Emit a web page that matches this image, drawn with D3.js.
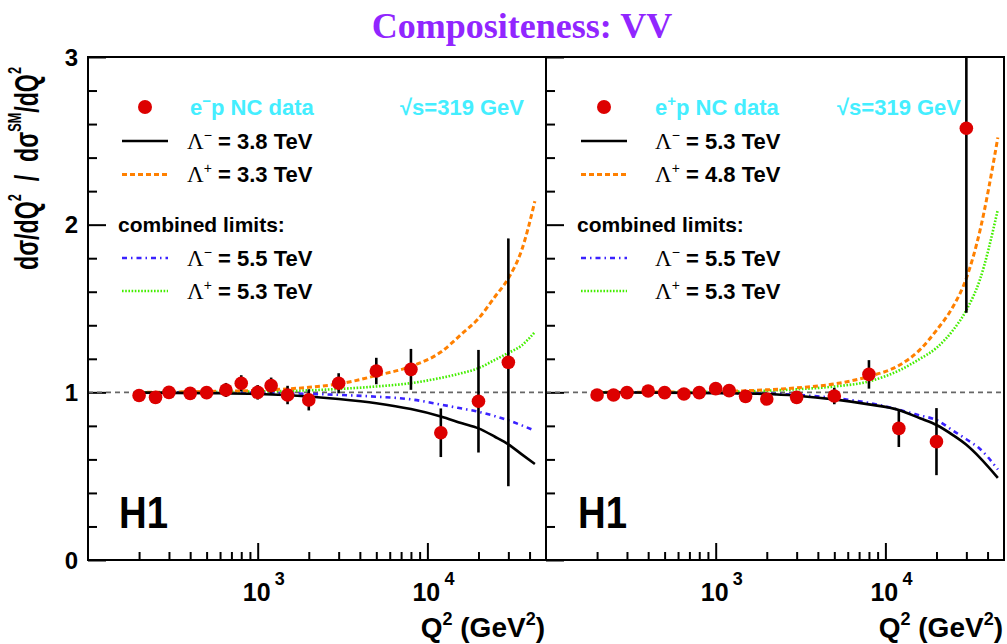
<!DOCTYPE html>
<html><head><meta charset="utf-8">
<script src="https://cdn.jsdelivr.net/npm/d3@7"></script>
<style>body{margin:0;background:#fff}svg{display:block}</style>
</head><body>
<svg id="c" width="1007" height="644"></svg>
<script>
// ---------- data ----------
const q2Bins = [200,250,300,400,500,650,800,1000,1200,1500,2000,3000,5000,8000,12000,20000,30000];
const emRatio = [0.981,0.970,1.000,0.994,0.998,1.014,1.054,1.000,1.040,0.984,0.955,1.054,1.127,1.137,0.759,0.947,1.179];
const emErr   = [0.025,0.025,0.035,0.025,0.038,0.042,0.048,0.043,0.048,0.055,0.063,0.060,0.079,0.122,0.145,0.306,0.739];
const epRatio = [0.984,0.984,0.998,1.008,0.998,0.990,0.998,1.022,1.010,0.976,0.960,0.970,0.978,1.107,0.785,0.706,2.575];
const epErr   = [0.020,0.020,0.020,0.020,0.020,0.020,0.020,0.020,0.020,0.025,0.030,0.030,0.049,0.085,0.111,0.200,1.100];

const curveQ2Left  = [200,500,1000,2000,3000,5000,8000,12000,16000,20000,25000,30000,36000,43000];
const emLamMinus   = [0.998,0.995,0.990,0.975,0.960,0.935,0.900,0.856,0.815,0.785,0.735,0.690,0.630,0.573];
const emLamPlus    = [1.000,1.005,1.012,1.030,1.050,1.100,1.155,1.240,1.350,1.440,1.570,1.680,1.850,2.140];
const comLamMinusL = [1.000,0.999,0.997,0.991,0.985,0.974,0.958,0.927,0.903,0.884,0.858,0.833,0.803,0.771];
const comLamPlusL  = [1.000,1.002,1.005,1.012,1.020,1.035,1.055,1.086,1.115,1.144,1.194,1.235,1.280,1.360];

const curveQ2Right = [200,500,1000,2000,3000,5000,8000,12000,16000,20000,25000,30000,36000,46000];
const epLamMinus   = [0.999,0.998,0.995,0.990,0.980,0.958,0.928,0.895,0.845,0.805,0.745,0.687,0.611,0.490];
const epLamPlus    = [1.000,1.002,1.005,1.015,1.027,1.050,1.095,1.160,1.255,1.370,1.510,1.680,1.960,2.520];
const comLamMinusR = [1.000,0.999,0.997,0.992,0.985,0.966,0.937,0.896,0.862,0.835,0.772,0.720,0.664,0.540];
const comLamPlusR  = [1.000,1.001,1.003,1.010,1.018,1.035,1.065,1.130,1.200,1.265,1.370,1.490,1.670,2.090];

const yTickValues = [0,1,2,3];
const yTickLabels = ["0","1","2","3"];
const xMajorTicks = [1000,10000];
const xMajorExp   = ["3","4"];
const xMinorTicks = [200,300,400,500,600,700,800,900,2000,3000,4000,5000,6000,7000,8000,9000,20000,30000,40000];

// ---------- layout ----------
const svg = d3.select("#c");
const FONT = "'Liberation Sans', Arial, Helvetica, sans-serif";
const SERIF = "'Liberation Serif', 'Times New Roman', serif";
const yTop = 57, yBot = 560, panelW = 458;
const y = d3.scaleLinear().domain([0,3]).range([yBot, yTop]);

const C = {red:"#dd0000", cyan:"#44eeff", orange:"#ff8000", blue:"#3a22ff", green:"#44ee00", black:"#000"};

const panels = [
  {x0:88, q2:q2Bins, r:emRatio, e:emErr, cq:curveQ2Left,
   curves:[emLamMinus, emLamPlus, comLamMinusL, comLamPlusL],
   lepton:"−", lam1:"3.8", lam2:"3.3", lam3:"5.5", lam4:"5.3", labels:true},
  {x0:546, q2:q2Bins, r:epRatio, e:epErr, cq:curveQ2Right,
   curves:[epLamMinus, epLamPlus, comLamMinusR, comLamPlusR],
   lepton:"+", lam1:"5.3", lam2:"4.8", lam3:"5.5", lam4:"5.3", labels:false}
];

const styles = [
  {color:C.black, dash:null, w:2.6},
  {color:C.orange, dash:"5,3", w:3},
  {color:C.blue, dash:"5,4,1.5,4", w:2.6},
  {color:C.green, dash:"1.6,1.6", w:2.6}
];

// title
svg.append("text").attr("x",522).attr("y",38).attr("text-anchor","middle")
  .attr("font-family",SERIF).attr("font-weight","bold").attr("font-size",36)
  .attr("fill","#9126ff").text("Compositeness: VV");

// y-axis title
const yt = svg.append("text").attr("transform","translate(38,270) rotate(-90)")
  .attr("font-family",FONT).attr("font-weight","bold").attr("font-size",33).attr("fill","#000")
  .attr("textLength",203).attr("lengthAdjust","spacingAndGlyphs");
yt.append("tspan").text("dσ/dQ");
yt.append("tspan").attr("dy",-17).attr("font-size",18).text("2");
yt.append("tspan").attr("dy",17).text("\u00a0\u00a0/\u00a0\u00a0dσ");
yt.append("tspan").attr("dy",-17).attr("font-size",18).text("SM");
yt.append("tspan").attr("dy",17).text("/dQ");
yt.append("tspan").attr("dy",-17).attr("font-size",18).text("2");

panels.forEach((p,pi) => {
  const x = d3.scaleLog().domain([100,50000]).range([p.x0, p.x0+panelW]);
  const g = svg.append("g");
  const clipId = "clip"+pi;
  svg.append("clipPath").attr("id",clipId).append("rect")
    .attr("x",p.x0).attr("y",yTop).attr("width",panelW).attr("height",yBot-yTop);

  // x axis ticks
  const xa = g.append("g").attr("transform",`translate(0,${yBot})`);
  xa.append("g").call(d3.axisBottom(x).tickValues(xMajorTicks).tickSize(-17).tickFormat(""))
    .call(s=>{s.select(".domain").remove(); s.selectAll("line").attr("stroke-width",2);});
  xa.append("g").call(d3.axisBottom(x).tickValues(xMinorTicks).tickSize(-8).tickFormat(""))
    .call(s=>{s.select(".domain").remove(); s.selectAll("line").attr("stroke-width",2);});
  xMajorTicks.forEach((v,i) => {
    g.append("text").attr("x",x(v)-1).attr("y",601).attr("text-anchor","middle")
      .attr("font-family",FONT).attr("font-weight","bold").attr("font-size",25).text("10");
    g.append("text").attr("x",x(v)+17).attr("y",585)
      .attr("font-family",FONT).attr("font-weight","bold").attr("font-size",18).text(xMajorExp[i]);
  });
  // x title
  const xt = g.append("text").attr("x",p.x0+panelW-1).attr("y",637).attr("text-anchor","end")
    .attr("font-family",FONT).attr("font-weight","bold").attr("font-size",28);
  xt.append("tspan").text("Q");
  xt.append("tspan").attr("dy",-12).attr("font-size",18).text("2");
  xt.append("tspan").attr("dy",12).text(" (GeV");
  xt.append("tspan").attr("dy",-12).attr("font-size",18).text("2");
  xt.append("tspan").attr("dy",12).text(")");

  // y axis ticks
  const ya = g.append("g").attr("transform",`translate(${p.x0},0)`);
  ya.append("g").call(d3.axisLeft(y).tickValues(yTickValues).tickSize(-18).tickFormat(""))
    .call(s=>{s.select(".domain").remove(); s.selectAll("line").attr("stroke-width",2);});
  const yMinor = d3.range(0,3.01,0.2).filter(v=>Math.abs(v-Math.round(v))>1e-6);
  ya.append("g").call(d3.axisLeft(y).tickValues(yMinor).tickSize(-9).tickFormat(""))
    .call(s=>{s.select(".domain").remove(); s.selectAll("line").attr("stroke-width",2);});
  if (p.labels) {
    yTickValues.forEach((v,i) => {
      g.append("text").attr("x",p.x0-10).attr("y",y(v)+8.5).attr("text-anchor","end")
        .attr("font-family",FONT).attr("font-weight","bold").attr("font-size",24).text(yTickLabels[i]);
    });
  }

  // reference line at 1
  g.append("line").attr("x1",p.x0).attr("x2",p.x0+panelW).attr("y1",y(1)).attr("y2",y(1))
    .attr("stroke","#666").attr("stroke-width",1.6).attr("stroke-dasharray","5,4");

  const plot = g.append("g").attr("clip-path",`url(#${clipId})`);
  // curves
  const line = d3.line().x(d=>x(d[0])).y(d=>y(d[1])).curve(d3.curveMonotoneX);
  [3,2,1,0].forEach(ci => {
    const st = styles[ci];
    plot.append("path").datum(p.cq.map((q,i)=>[q,p.curves[ci][i]]))
      .attr("d",line).attr("fill","none").attr("stroke",st.color)
      .attr("stroke-width",st.w).attr("stroke-dasharray",st.dash);
  });
  // error bars + points
  p.q2.forEach((q,i) => {
    plot.append("line").attr("x1",x(q)).attr("x2",x(q))
      .attr("y1",y(p.r[i]-p.e[i])).attr("y2",y(p.r[i]+p.e[i]))
      .attr("stroke","#000").attr("stroke-width",2.6);
  });
  p.q2.forEach((q,i) => {
    plot.append("circle").attr("cx",x(q)).attr("cy",y(p.r[i])).attr("r",6.8).attr("fill",C.red);
  });

  // frame
  g.append("rect").attr("x",p.x0).attr("y",yTop).attr("width",panelW).attr("height",yBot-yTop)
    .attr("fill","none").attr("stroke","#000").attr("stroke-width",2);

  // legend
  const lx = p.x0;
  const L = pi===0 ? {dot:57, txt:102, sq:312, l1:34, l2:80, tl:99, comb:30}
                   : {dot:58, txt:109, sq:291, l1:35, l2:81, tl:109, comb:31};
  g.append("circle").attr("cx",lx+L.dot).attr("cy",107).attr("r",7).attr("fill",C.red);
  const t0 = g.append("text").attr("x",lx+L.txt).attr("y",115).attr("font-family",FONT)
    .attr("font-weight","bold").attr("font-size",22).attr("fill",C.cyan);
  t0.append("tspan").text("e");
  t0.append("tspan").attr("dy",-9).attr("font-size",15).text(p.lepton);
  t0.append("tspan").attr("dy",9).text("p NC data");
  g.append("text").attr("x",lx+L.sq).attr("y",115).attr("font-family",FONT)
    .attr("font-weight","bold").attr("font-size",22).attr("fill",C.cyan).text("√s=319 GeV");

  const entries = [
    {yl:141, yb:148.5, sign:"−", val:p.lam1, st:styles[0]},
    {yl:174.5, yb:182, sign:"+", val:p.lam2, st:styles[1]},
    {yl:258, yb:265.5, sign:"−", val:p.lam3, st:styles[2]},
    {yl:291, yb:298.5, sign:"+", val:p.lam4, st:styles[3]}
  ];
  entries.forEach(en => {
    g.append("line").attr("x1",lx+L.l1).attr("x2",lx+L.l2).attr("y1",en.yl).attr("y2",en.yl)
      .attr("stroke",en.st.color).attr("stroke-width",en.st.w).attr("stroke-dasharray",en.st.dash);
    const t = g.append("text").attr("x",lx+L.tl).attr("y",en.yb).attr("font-family",FONT)
      .attr("font-weight","bold").attr("font-size",22).attr("fill","#000");
    t.append("tspan").attr("font-family",SERIF).attr("font-weight","normal").attr("font-size",23).text("Λ");
    t.append("tspan").attr("dy",-9).attr("font-size",14).attr("font-weight","normal").text(en.sign);
    t.append("tspan").attr("dy",9).text(" = " + en.val + " TeV");
  });
  g.append("text").attr("x",lx+L.comb).attr("y",232).attr("font-family",FONT)
    .attr("font-weight","bold").attr("font-size",21).text("combined limits:");

  // H1
  g.append("text").attr("x",lx+(pi===0?31:32)).attr("y",528).attr("font-family",FONT)
    .attr("font-weight","bold").attr("font-size",44).attr("textLength",49)
    .attr("lengthAdjust","spacingAndGlyphs").text("H1");
});
</script>
</body></html>
